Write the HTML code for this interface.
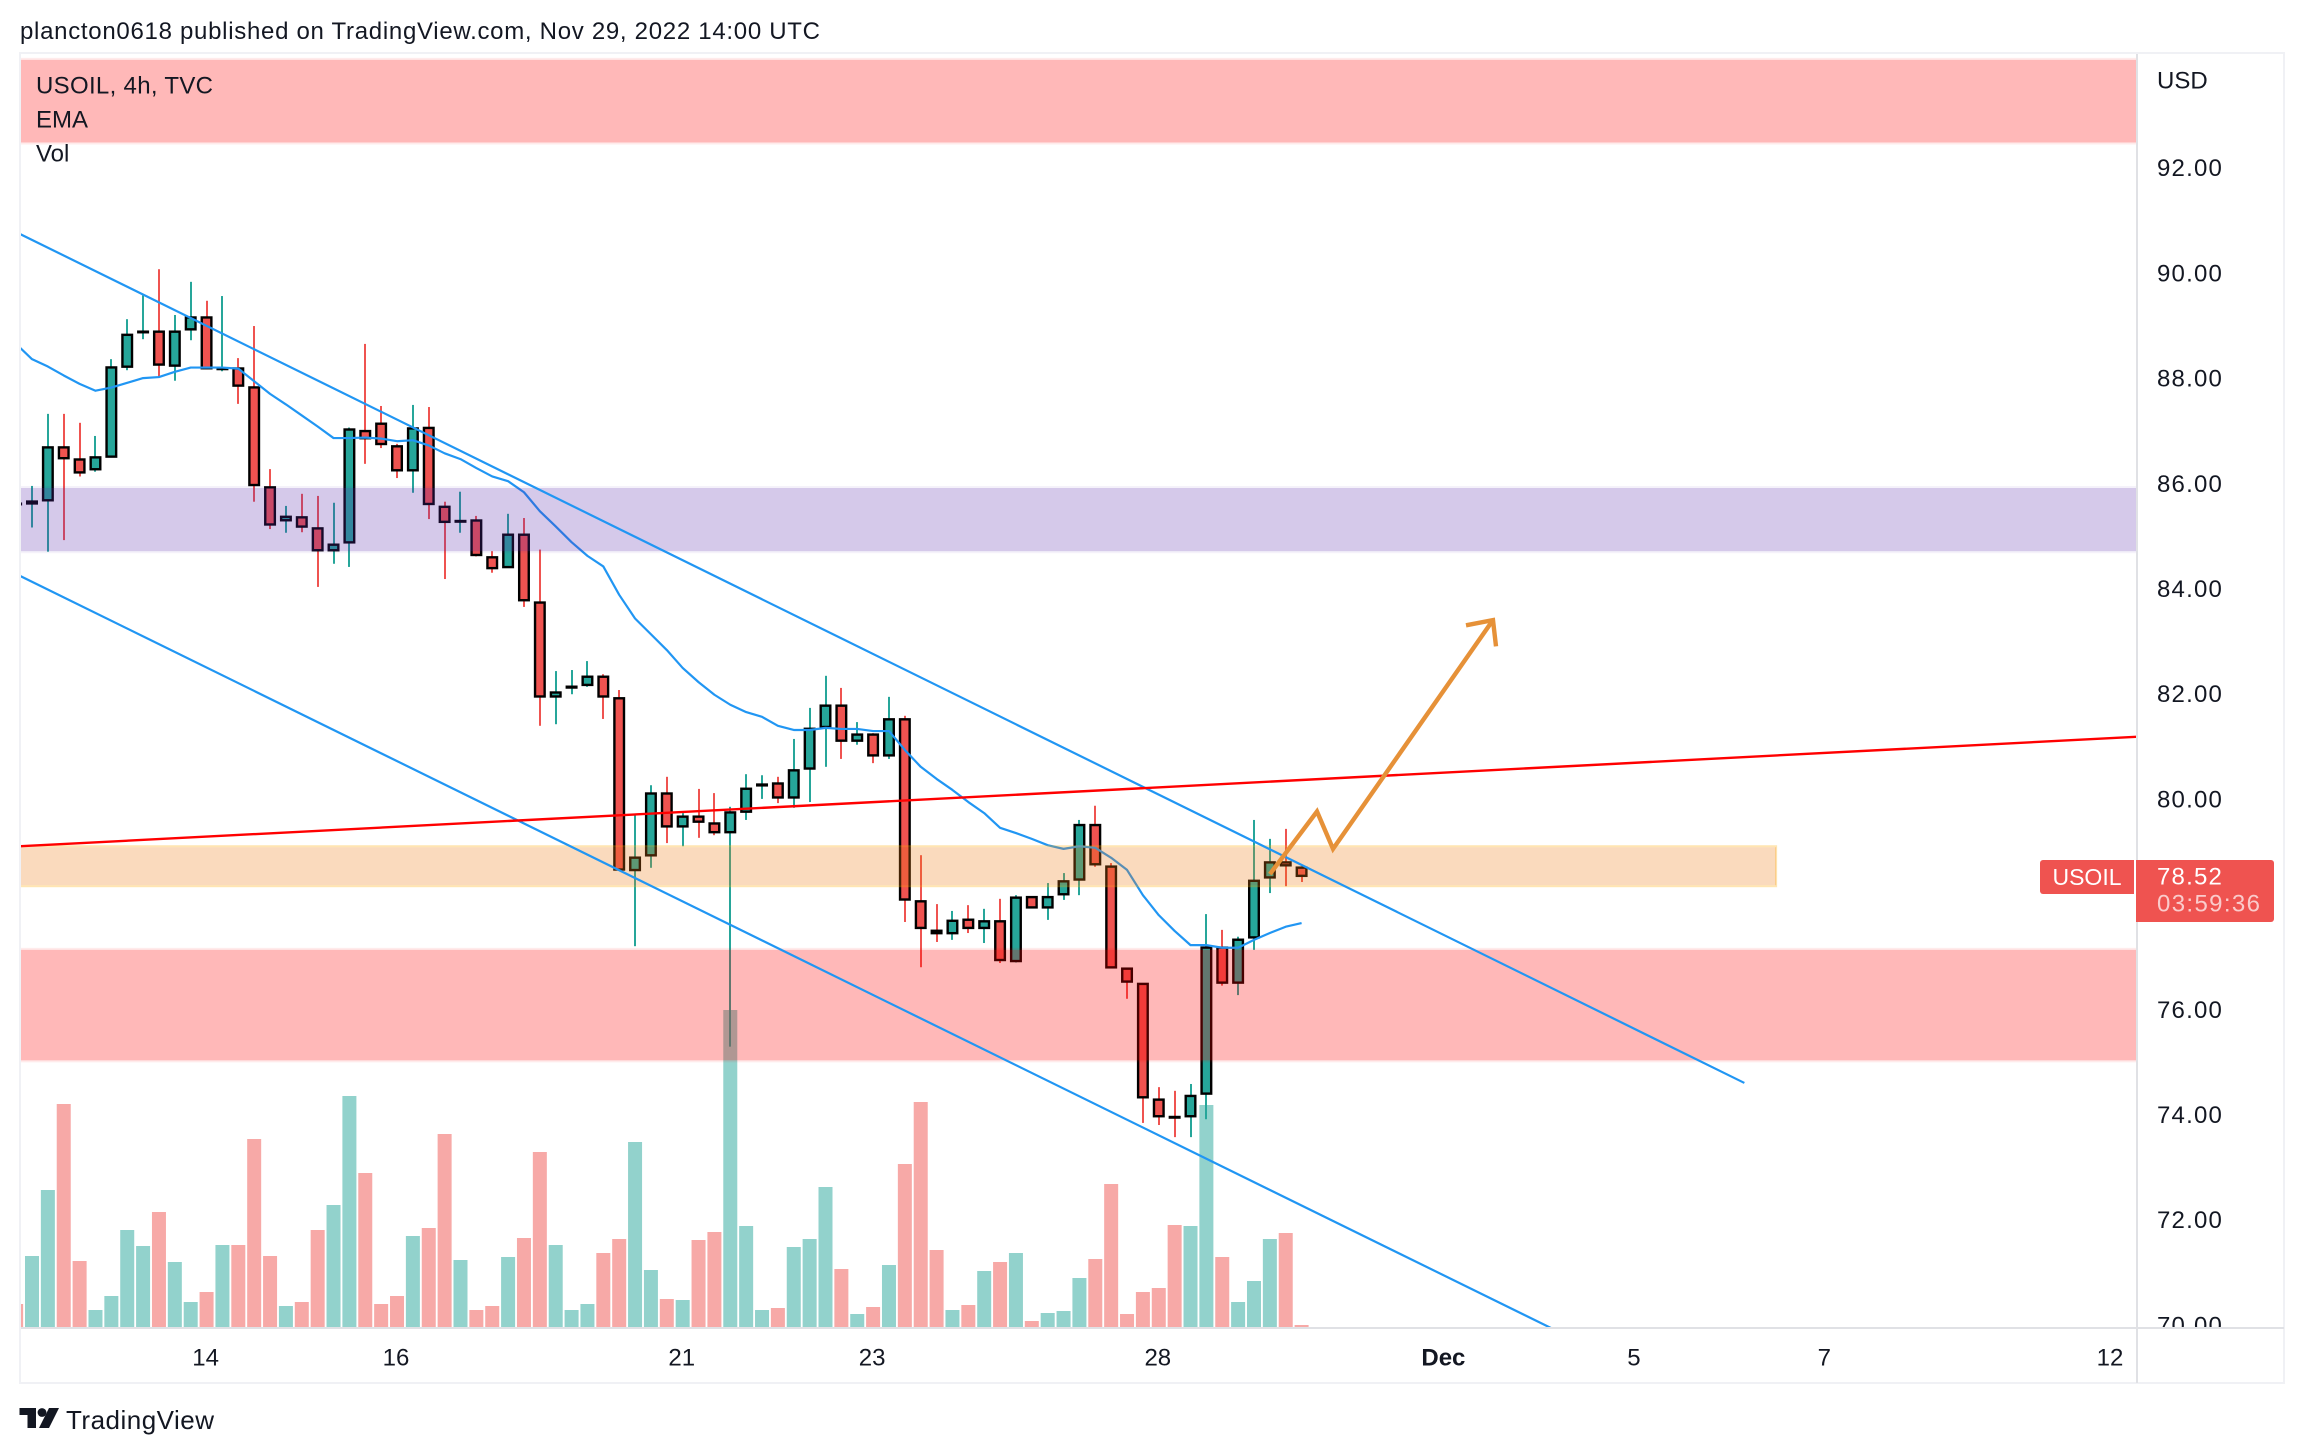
<!DOCTYPE html>
<html lang="en">
<head>
<meta charset="utf-8">
<title>USOIL 4h chart</title>
<style>
html,body{margin:0;padding:0;background:#fff;width:2304px;height:1454px;overflow:hidden}
svg{display:block;font-family:"Liberation Sans",sans-serif;fill:#131722}
text{dominant-baseline:central}
</style>
</head>
<body>
<svg id="chart" width="2304" height="1454" viewBox="0 0 2304 1454" xmlns="http://www.w3.org/2000/svg">
  <defs>
    <clipPath id="pane-clip"><rect x="21" y="54" width="2115" height="1273"/></clipPath>
    <clipPath id="axis-clip"><rect x="2138" y="54" width="145" height="1273"/></clipPath>
  </defs>
  <rect x="0" y="0" width="2304" height="1454" fill="#ffffff"/>
  <text x="20" y="31.5" font-size="24" textLength="800" lengthAdjust="spacing">plancton0618 published on TradingView.com, Nov 29, 2022 14:00 UTC</text>
  <g id="pane" clip-path="url(#pane-clip)"></g>
  <g id="frame">
    <rect x="20" y="53" width="2264" height="1330" fill="none" stroke="#f0f1f5" stroke-width="2"/>
    <rect x="2136" y="54" width="2" height="1329" fill="#e0e1e5"/>
    <rect x="21" y="1327" width="2263" height="2" fill="#e0e1e5"/>
  </g>
  <g font-size="24">
    <text x="36" y="86" textLength="177" lengthAdjust="spacing">USOIL, 4h, TVC</text>
    <text x="36" y="120">EMA</text>
    <text x="36" y="154">Vol</text>
  </g>
  <text x="2157" y="81" font-size="24">USD</text>
  <g id="price-axis" clip-path="url(#axis-clip)"></g>
  <g id="time-axis"></g>
  <g>
    <path d="M2043 860H2134V894H2043a3 3 0 0 1-3-3V863a3 3 0 0 1 3-3z" fill="#ef5350"/>
    <text x="2087" y="877" font-size="23" fill="#ffffff" text-anchor="middle">USOIL</text>
    <path d="M2136 860H2271a3 3 0 0 1 3 3V919a3 3 0 0 1-3 3H2136z" fill="#ef5350"/>
    <text x="2157" y="877" font-size="24" letter-spacing="1.2" fill="#ffffff">78.52</text>
    <text x="2157" y="904" font-size="24" fill="#ffffff" fill-opacity="0.7" textLength="103" lengthAdjust="spacing">03:59:36</text>
  </g>
  <g>
    <path d="M19.5 1408H36V1428H27.5V1415H19.5z" fill="#131722"/>
    <circle cx="42" cy="1412.5" r="4.4" fill="#131722"/>
    <path d="M49 1408H59L49 1428H39z" fill="#131722"/>
    <text x="66" y="1420" font-size="26" textLength="148" lengthAdjust="spacing">TradingView</text>
  </g>
</svg>
<script>
const opens = [
85.63,85.60,85.66,86.70,86.47,86.25,86.49,88.20,88.86,88.90,
88.22,88.91,89.17,88.17,88.20,87.84,85.94,85.28,85.37,85.16,
84.71,84.86,87.01,87.15,86.72,86.23,87.07,85.57,85.26,85.31,
84.61,84.39,85.04,83.75,81.93,82.10,82.15,82.34,81.93,78.63,
78.91,80.12,79.46,79.68,79.55,79.35,79.74,80.24,80.31,80.01,
80.56,81.35,81.79,81.09,81.24,80.81,81.53,78.07,77.51,77.43,
77.72,77.53,77.69,76.90,78.15,77.92,78.17,78.45,79.52,78.73,
76.79,76.50,74.30,73.97,73.95,74.38,77.19,76.49,77.35,78.49,
78.81,78.71];
const highs = [
85.65,85.95,87.32,87.32,87.15,86.90,88.36,89.12,89.57,90.07,
89.20,89.83,89.47,89.56,88.38,88.99,86.27,85.57,85.80,85.76,
85.63,87.06,88.65,87.47,86.75,87.49,87.45,85.65,85.84,85.38,
84.71,85.42,85.34,84.74,82.43,82.45,82.62,82.37,82.07,79.69,
80.26,80.42,79.73,80.19,80.11,79.85,80.47,80.45,80.42,81.14,
81.73,82.34,82.11,81.46,81.25,81.94,81.58,78.93,78.00,77.87,
77.98,77.91,78.10,78.17,78.15,78.40,78.59,79.60,79.87,78.78,
76.79,76.50,74.52,74.45,74.58,77.81,77.51,77.38,79.60,79.24,
79.43,78.72];
const lows = [
85.57,85.16,84.70,84.92,86.13,86.22,86.49,88.15,88.74,88.03,
87.95,88.72,88.17,88.13,87.51,85.65,85.13,85.06,85.07,84.03,
84.47,84.41,86.37,86.67,86.10,85.82,85.32,84.18,85.06,84.61,
84.30,84.39,83.65,81.39,81.42,81.99,82.13,81.52,78.63,77.20,
78.69,79.16,79.10,79.26,79.31,75.29,79.60,80.00,79.92,79.83,
79.94,80.61,80.76,81.03,80.68,80.76,77.66,76.80,77.28,77.32,
77.45,77.26,76.88,76.89,77.92,77.70,78.08,78.17,78.71,76.78,
76.20,73.84,73.80,73.57,73.57,73.91,76.45,76.27,77.13,78.21,
78.34,78.42];
const closes = [
85.59,85.67,86.70,86.46,86.19,86.51,88.22,88.84,88.90,88.24,
88.90,89.17,88.17,88.20,87.84,85.95,85.20,85.38,85.16,84.71,
84.85,87.04,86.84,86.73,86.23,87.06,85.59,85.25,85.30,84.62,
84.37,85.04,83.76,81.93,82.04,82.15,82.34,81.93,78.64,78.90,
80.12,79.46,79.68,79.55,79.35,79.76,80.21,80.29,80.01,80.56,
81.35,81.79,81.09,81.24,80.81,81.53,78.07,77.53,77.43,77.70,
77.53,77.69,76.92,78.14,77.92,78.15,78.45,79.52,78.74,76.78,
76.51,74.31,73.95,73.93,74.37,77.19,76.49,77.34,78.46,78.81,
78.72,78.52];
const volumes = [
2.3,7.1,13.7,22.3,6.6,1.7,3.1,9.7,8.1,11.5,
6.5,2.5,3.5,8.2,8.2,18.8,7.1,2.1,2.5,9.7,
12.2,23.1,15.4,2.3,3.1,9.1,9.9,19.3,6.7,1.7,
2.1,7.0,8.9,17.5,8.2,1.7,2.3,7.4,8.8,18.5,
5.7,2.8,2.7,8.7,9.5,31.7,10.1,1.7,1.9,8.0,
8.8,14.0,5.8,1.3,2.0,6.2,16.3,22.5,7.7,1.7,
2.2,5.6,6.5,7.4,0.6,1.4,1.6,4.9,6.8,14.3,
1.3,3.5,3.9,10.2,10.1,22.2,7.0,2.5,4.6,8.8,
9.4,0.2];
const emaValues = [
88.65,88.36,88.22,88.05,87.89,87.76,87.82,87.91,88.00,88.02,
88.12,88.20,88.20,88.20,88.18,87.94,87.70,87.50,87.29,87.08,
86.86,86.86,86.87,86.85,86.80,86.82,86.72,86.57,86.46,86.29,
86.13,86.04,85.83,85.47,85.18,84.88,84.62,84.42,83.88,83.43,
83.13,82.83,82.49,82.22,81.98,81.79,81.65,81.56,81.39,81.31,
81.31,81.35,81.33,81.33,81.29,81.29,80.93,80.61,80.38,80.17,
79.94,79.73,79.45,79.35,79.24,79.12,79.05,79.10,79.07,78.88,
78.65,78.17,77.79,77.49,77.22,77.22,77.17,77.17,77.32,77.45,
77.57,77.64];
const priceTicks = [92,90,88,86,84,82,80,78,76,74,72,70];
const hiddenPriceTicks = [78];
const timeTickBars = [12,24,42,54,72,90,102,114,132];
const timeTickLabels = ["14","16","21","23","28","Dec","5","7","12"];
const timeTickBold = ["Dec"];
const upperChannelBars = [0.244,108.9];
const upperChannelPrices = [90.74,74.60];
const lowerChannelBars = [0.244,96.72];
const lowerChannelPrices = [84.24,69.94];
const redLineBars = [0.244,133.6];
const redLinePrices = [79.10,81.18];
const arrowBars = [79.0,81.97,82.98,93.06];
const arrowPrices = [78.57,79.76,79.05,83.40];
const arrowHeadBars = [91.36,93.06,93.25];
const arrowHeadPrices = [83.30,83.40,82.90];
const pinkTopZonePrices = [94.07,92.46];
const purpleZonePrices = [85.93,84.69];
const orangeZonePrices = [79.10,78.34];
const pinkLowerZonePrices = [77.15,75.01];
const orangeZoneEndBar = 110.9;
const lastBarEdge = 134;

const NS = "http://www.w3.org/2000/svg";
const UP = "#26a69a";
const DOWN = "#ef5350";
const pane = document.getElementById("pane");
const priceAxis = document.getElementById("price-axis");
const timeAxis = document.getElementById("time-axis");

function xScale(bar){ return 16.13 + bar * 15.87; }
function yScale(price){ return 167.7 + (92 - price) * 52.6; }
function volScale(v){ return 1327 - v * 10; }

function make(tag, parent, attrs){
  const el = document.createElementNS(NS, tag);
  for (const k in attrs) el.setAttribute(k, attrs[k]);
  parent.appendChild(el);
  return el;
}
function pointsOf(bars, prices){
  return bars.map(function(b, i){ return xScale(b).toFixed(2) + "," + yScale(prices[i]).toFixed(2); }).join(" ");
}

/* volume */
const volGroup = make("g", pane, {});


volumes.forEach(function(v, i){
  const isUp = closes[i] >= opens[i];
  const cx = xScale(i);
  const top = volScale(v);
  const bar = make("rect", volGroup, {x:(cx-7).toFixed(2), y:top.toFixed(2), width:14, height:(1327-top).toFixed(2), fill:isUp?UP:DOWN, "fill-opacity":0.5});
  
  
});

/* candles */
const candleGroup = make("g", pane, {});


opens.forEach(function(o, i){
  const c = closes[i];
  const isUp = c >= o;
  const col = isUp ? UP : DOWN;
  const cx = xScale(i);
  const g = make("g", candleGroup, {});
  
  
  const hy = yScale(highs[i]);
  const ly = yScale(lows[i]);
  const wick = make("rect", g, {x:(Math.round(cx)-1), y:hy.toFixed(2), width:2, height:Math.max(0,ly-hy).toFixed(2), fill:col});
  
  
  const top = yScale(Math.max(o, c));
  const bot = yScale(Math.min(o, c));
  const h = bot - top;
  let body;
  if (h < 4) {
    body = make("rect", g, {x:(cx-6).toFixed(2), y:(top-0.3).toFixed(2), width:12, height:Math.max(h+0.6,3).toFixed(2), fill:"#000000"});
  } else {
    body = make("rect", g, {x:(cx-4.8).toFixed(2), y:(top+0.9).toFixed(2), width:9.6, height:(h-1.8).toFixed(2), fill:col, stroke:"#000000", "stroke-width":2.4});
  }
  
  
});

/* EMA */
const emaLine = make("polyline", pane, {points:pointsOf(emaValues.map(function(_, i){ return i; }), emaValues), fill:"none", stroke:"#2196f3", "stroke-width":2.2, "stroke-linejoin":"round"});



/* zones */
function drawZone(prices, endBar, fill, edge, name){
  const y1 = yScale(prices[0]);
  const y2 = yScale(prices[1]);
  const x1 = 20;
  const x2 = xScale(endBar);
  const g = make("g", pane, {});
  
  
  make("rect", g, {x:x1, y:(y1+1).toFixed(2), width:(x2-x1).toFixed(2), height:(y2-y1-2).toFixed(2), fill:fill});
  make("rect", g, {x:x1, y:(y1).toFixed(2), width:(x2-x1).toFixed(2), height:(y2-y1).toFixed(2), fill:"none", stroke:edge, "stroke-width":2});
}
drawZone(pinkTopZonePrices, lastBarEdge, "rgba(255,0,0,0.28)", "rgba(255,0,0,0.08)", "upper-resistance-zone");
drawZone(pinkLowerZonePrices, lastBarEdge, "rgba(255,0,0,0.28)", "rgba(255,0,0,0.08)", "lower-support-zone");
drawZone(purpleZonePrices, lastBarEdge, "rgba(87,40,172,0.25)", "rgba(87,40,172,0.06)", "purple-zone");
drawZone(orangeZonePrices, orangeZoneEndBar, "rgba(237,123,19,0.28)", "rgba(255,170,0,0.3)", "orange-zone");

/* drawings */
const upperChannel = make("polyline", pane, {points:pointsOf(upperChannelBars, upperChannelPrices), fill:"none", stroke:"#2196f3", "stroke-width":2.2});


const lowerChannel = make("polyline", pane, {points:pointsOf(lowerChannelBars, lowerChannelPrices), fill:"none", stroke:"#2196f3", "stroke-width":2.2});


const redLine = make("polyline", pane, {points:pointsOf(redLineBars, redLinePrices), fill:"none", stroke:"#ff0000", "stroke-width":2.4});


const arrowPath = make("polyline", pane, {points:pointsOf(arrowBars, arrowPrices), fill:"none", stroke:"#e69138", "stroke-width":4.4, "stroke-linejoin":"miter"});


const arrowHead = make("polyline", pane, {points:pointsOf(arrowHeadBars, arrowHeadPrices), fill:"none", stroke:"#e69138", "stroke-width":4.4, "stroke-linejoin":"miter"});



/* axes */
priceTicks.forEach(function(p){
  if (hiddenPriceTicks.indexOf(p) >= 0) return;
  const t = make("text", priceAxis, {x:2157, y:(yScale(p)+1).toFixed(1), "font-size":24, "letter-spacing":1.2});
  
  
  t.textContent = p.toFixed(2);
});
timeTickBars.forEach(function(b, i){
  const label = timeTickLabels[i];
  const t = make("text", timeAxis, {x:(xScale(b)-1).toFixed(1), y:1358, "font-size":24, "text-anchor":"middle", "font-weight":timeTickBold.indexOf(label) >= 0 ? "bold" : "normal"});
  
  
  t.textContent = label;
});
</script>
</body>
</html>
